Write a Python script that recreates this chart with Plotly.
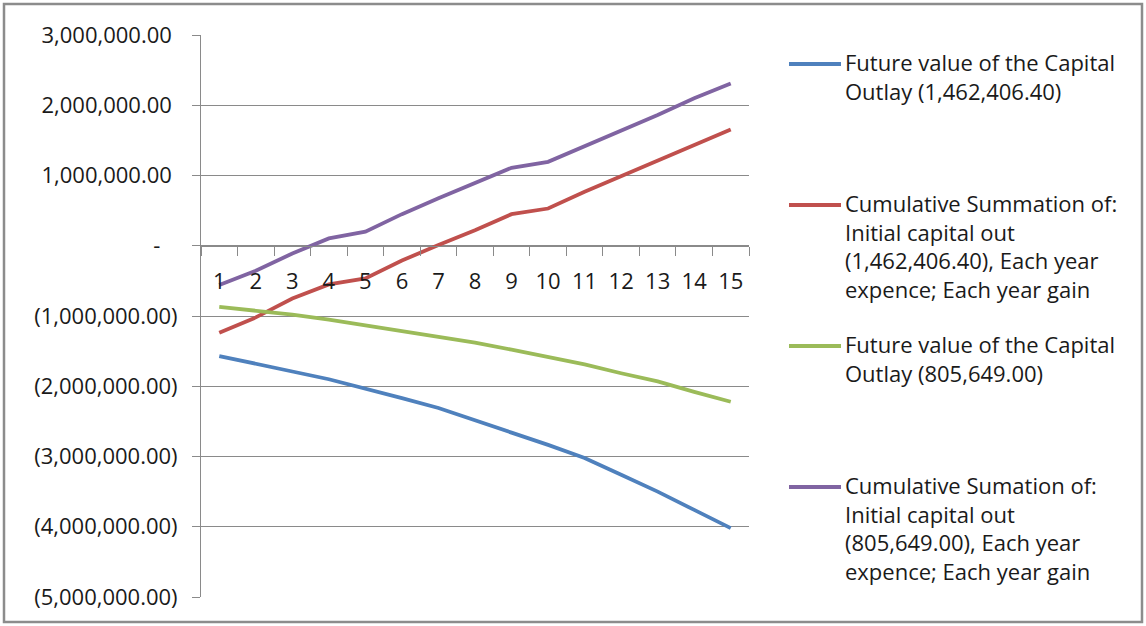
import plotly.graph_objects as go

# Years 1..15
years = [str(i) for i in range(1, 16)]

fv_outlay_1462 = [-1570000, -1675000, -1790000, -1900000, -2030000, -2170000, -2310000,
                  -2480000, -2660000, -2835000, -3020000, -3260000, -3500000, -3760000, -4020000]
cum_sum_1462 = [-1240000, -1020000, -750000, -550000, -465000, -210000, 10000,
                220000, 450000, 530000, 770000, 990000, 1210000, 1440000, 1655000]
fv_outlay_805 = [-870000, -925000, -980000, -1050000, -1130000, -1220000, -1290000,
                 -1380000, -1480000, -1580000, -1690000, -1815000, -1930000, -2080000, -2220000]
cum_sum_805 = [-560000, -355000, -110000, 105000, 200000, 450000, 675000,
               890000, 1110000, 1195000, 1420000, 1640000, 1860000, 2100000, 2310000]

series_names = [
    "Future value of the Capital<br>Outlay (1,462,406.40)",
    "Cumulative Summation of:<br>Initial capital out<br>(1,462,406.40), Each year<br>expence; Each year gain",
    "Future value of the Capital<br>Outlay (805,649.00)",
    "Cumulative Sumation of:<br>Initial capital out<br>(805,649.00), Each year<br>expence; Each year gain",
]
series_values = [fv_outlay_1462, cum_sum_1462, fv_outlay_805, cum_sum_805]
series_colors = ["#4F81BD", "#C0504D", "#9BBB59", "#8064A2"]

y_tickvals = [3000000, 2000000, 1000000, 0, -1000000, -2000000, -3000000, -4000000, -5000000]
y_ticktext = ["3,000,000.00", "2,000,000.00", "1,000,000.00", "-", "(1,000,000.00)",
              "(2,000,000.00)", "(3,000,000.00)", "(4,000,000.00)", "(5,000,000.00)"]

NB = "\u00a0"
y_ticktext_padded = []
for t in y_ticktext:
    if t == "-":
        y_ticktext_padded.append(t + NB * 3)
    elif t.startswith("("):
        y_ticktext_padded.append(t)
    else:
        y_ticktext_padded.append(t + NB)

FONT = "Open Sans"
FS = 22
TEXT_COLOR = "#1a1a1a"
GRID = "#8a8a8a"
LINE_W = 3.8

FIG_W, FIG_H = 1146, 626
M_L, M_R, M_T, M_B = 201, 397, 35, 29
PW = FIG_W - M_L - M_R
PH = FIG_H - M_T - M_B


def px_x(x):
    return (x - M_L) / PW


def px_y(y):
    return (FIG_H - M_B - y) / PH


fig = go.Figure()
for name, vals, col in zip(series_names, series_values, series_colors):
    fig.add_trace(go.Scatter(
        x=years, y=vals, mode="lines", name=name.replace("<br>", " "),
        line=dict(color=col, width=LINE_W), showlegend=False,
    ))

# Legend entries: sample line + wrapped label, evenly spaced down the right side
legend_first_line_y = [64, 205, 346, 487]
for name, col, ly in zip(series_names, series_colors, legend_first_line_y):
    fig.add_shape(type="line", xref="paper", yref="paper",
                  x0=px_x(789), x1=px_x(841), y0=px_y(ly), y1=px_y(ly),
                  line=dict(color=col, width=LINE_W))
    fig.add_annotation(xref="paper", yref="paper", x=px_x(843), y=px_y(ly - 19),
                       xanchor="left", yanchor="top", align="left",
                       text=name, showarrow=False,
                       font=dict(family=FONT, size=FS, color=TEXT_COLOR))

# Chart border
fig.add_shape(type="rect", xref="paper", yref="paper",
              x0=px_x(4), x1=px_x(1142), y0=px_y(622), y1=px_y(4),
              line=dict(color="#8c8c8c", width=2.5), layer="below")

fig.update_layout(
    width=FIG_W, height=FIG_H,
    margin=dict(l=M_L, r=M_R, t=M_T, b=M_B, autoexpand=False),
    paper_bgcolor="white", plot_bgcolor="white",
    font=dict(family=FONT, size=FS, color=TEXT_COLOR),
    xaxis=dict(
        type="category", range=[-0.5, 14.5],
        anchor="free", position=0.625,
        showgrid=False, zeroline=False,
        showline=True, linecolor=GRID, linewidth=1,
        ticks="outside", ticklen=9, tickcolor=GRID, tickwidth=1,
        tickson="boundaries", ticklabelstandoff=16,
        tickfont=dict(family=FONT, size=FS, color=TEXT_COLOR),
    ),
    yaxis=dict(
        range=[-5000000, 3000000],
        tickvals=y_tickvals, ticktext=y_ticktext_padded,
        showgrid=True, gridcolor=GRID, gridwidth=1,
        zeroline=False,
        showline=True, linecolor=GRID, linewidth=1,
        ticks="outside", ticklen=8, tickcolor=GRID, tickwidth=1,
        ticklabelstandoff=10,
        tickfont=dict(family=FONT, size=FS, color=TEXT_COLOR),
    ),
)

fig.write_html("out.html")
